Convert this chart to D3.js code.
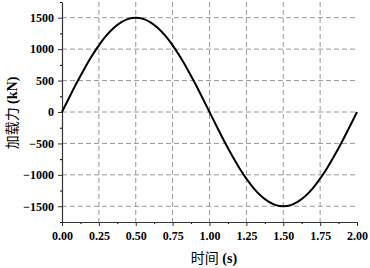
<!DOCTYPE html>
<html>
<head>
<meta charset="utf-8">
<script src="https://cdn.jsdelivr.net/npm/d3@7"></script>
<style>
  html, body { margin: 0; padding: 0; background: #fff; }
  svg { display: block; }
  .tick text { font-family: "Liberation Serif", "Times New Roman", serif; font-weight: bold; font-size: 12px; fill: #000; }
  .cjk { font-family: "Noto Sans CJK SC", sans-serif; font-weight: normal; font-size: 14px; }
  .lat { font-family: "Liberation Serif", serif; font-weight: bold; font-size: 14px; }
</style>
</head>
<body>
<svg id="chart" width="370" height="268"></svg>
<script>
const times = [0, 0.05, 0.1, 0.15, 0.2, 0.25, 0.3, 0.35, 0.4, 0.45, 0.5,
  0.55, 0.6, 0.65, 0.7, 0.75, 0.8, 0.85, 0.9, 0.95, 1.0,
  1.05, 1.1, 1.15, 1.2, 1.25, 1.3, 1.35, 1.4, 1.45, 1.5,
  1.55, 1.6, 1.65, 1.7, 1.75, 1.8, 1.85, 1.9, 1.95, 2.0];
const loads = [0, 235, 464, 681, 882, 1061, 1214, 1337, 1427, 1482, 1500,
  1482, 1427, 1337, 1214, 1061, 882, 681, 464, 235, 0,
  -235, -464, -681, -882, -1061, -1214, -1337, -1427, -1482, -1500,
  -1482, -1427, -1337, -1214, -1061, -882, -681, -464, -235, 0];
const xTicks = [0, 0.25, 0.5, 0.75, 1.0, 1.25, 1.5, 1.75, 2.0];
const yTicks = [-1500, -1000, -500, 0, 500, 1000, 1500];
const xLabel = ["时间", " (s)"];
const yLabel = ["加载力", " (kN)"];

const svg = d3.select("#chart");
const margin = { top: 2, right: 13, bottom: 46, left: 62 };
const width = 370, height = 268;

const x = d3.scaleLinear().domain([0, 2]).range([margin.left, width - margin.right]);
const y = d3.scaleLinear().domain([-1750, 1750]).range([height - margin.bottom, margin.top]);

// grid
const grid = svg.append("g").attr("stroke", "#999").attr("stroke-width", 1).attr("stroke-dasharray", "5,3");
grid.selectAll("line.v").data(xTicks.filter(d => d > 0 && d < 2)).enter().append("line")
  .attr("x1", d => x(d)).attr("x2", d => x(d))
  .attr("y1", y(1750)).attr("y2", y(-1750));
grid.selectAll("line.h").data(yTicks).enter().append("line")
  .attr("x1", x(0)).attr("x2", x(2))
  .attr("y1", d => y(d)).attr("y2", d => y(d));

// minor ticks
const xMinor = d3.range(0.125, 2, 0.25);
const yMinor = d3.range(-1750, 1751, 500);

svg.append("g").attr("transform", `translate(0,${y(-1750)})`)
  .call(d3.axisBottom(x).tickValues(xMinor).tickSize(2).tickFormat(""))
  .call(g => g.select(".domain").remove());
svg.append("g").attr("transform", `translate(${x(0)},0)`)
  .call(d3.axisLeft(y).tickValues(yMinor).tickSize(2).tickFormat(""))
  .call(g => g.select(".domain").remove());

const xAxis = svg.append("g").attr("transform", `translate(0,${y(-1750)})`)
  .call(d3.axisBottom(x).tickValues(xTicks).tickSize(4).tickSizeOuter(0).tickPadding(5).tickFormat(d3.format(".2f")));
const yAxis = svg.append("g").attr("transform", `translate(${x(0)},0)`)
  .call(d3.axisLeft(y).tickValues(yTicks).tickSize(4).tickSizeOuter(0).tickPadding(4).tickFormat(d3.format("d")));
[xAxis, yAxis].forEach(a => {
  a.select(".domain").attr("stroke", "#333").attr("stroke-width", 1.2);
  a.selectAll(".tick line").attr("stroke", "#333");
});

// curve
const pts = times.map((t, i) => [t, loads[i]]);
svg.append("path").datum(pts)
  .attr("fill", "none").attr("stroke", "#000").attr("stroke-width", 2)
  .attr("d", d3.line().x(d => x(d[0])).y(d => y(d[1])).curve(d3.curveCatmullRom));

// titles
const xt = svg.append("text")
  .attr("x", 214).attr("y", 263)
  .attr("text-anchor", "middle");
xt.append("tspan").attr("class", "cjk").text(xLabel[0]);
xt.append("tspan").attr("class", "lat").text(xLabel[1]);

const yt = svg.append("text")
  .attr("transform", `translate(17,113) rotate(-90)`)
  .attr("text-anchor", "middle");
yt.append("tspan").attr("class", "cjk").text(yLabel[0]);
yt.append("tspan").attr("class", "lat").text(yLabel[1]);
</script>
</body>
</html>
